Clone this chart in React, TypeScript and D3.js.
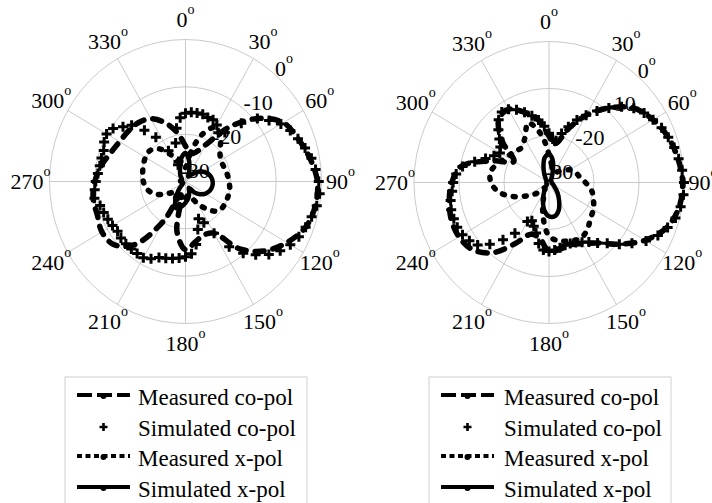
import React from "react";
import * as d3 from "d3";

// polar grid
const angleTicks = [0, 30, 60, 90, 120, 150, 180, 210, 240, 270, 300, 330];
const ringTicks = [0, -10, -20, -30];
const lineAngles = d3.range(0, 360, 10);
const markerAngles = d3.range(0, 360, 5);

const legendLabels = ["Measured co-pol", "Simulated co-pol", "Measured x-pol", "Simulated x-pol"];

// left panel (dB), measured every 10 deg, simulated co-pol every 5 deg
const measCoL = [-22.5, -24, -23.4, -21, -15, -9.3, -5.1, -3.6, -2.1, -0.9, -0.9, -1.8, -4.2, -7.2, -11.4, -17.4, -18, -17.1, -15.6, -19.2, -27, -20.4, -12.6, -9.3, -8.7, -9.3, -9.3, -10, -11.1, -12.4, -13.2, -13.5, -13.8, -14.7, -16.8, -19.5];
const simCoL = [-15.6, -15.3, -15.3, -15.3, -15.6, -15.6, -16.2, -17.4, -16.5, -12.6, -9.3, -7.5, -5.7, -4.5, -3.6, -2.7, -1.8, -1.2, -0.6, -0.3, -0.6, -1.2, -1.8, -2.4, -3.3, -4.5, -6.0, -8.1, -10.2, -13.2, -17.4, -20.4, -21.6, -19.5, -16.5, -14.7, -14.1, -13.8, -13.5, -13.2, -12.9, -12.0, -11.4, -11.4, -11.4, -11.4, -11.4, -11.7, -11.4, -11.1, -10.8, -10.5, -9.6, -9.9, -10.2, -10.6, -10.8, -10.8, -10.8, -10.2, -9.9, -10.5, -12.0, -13.2, -15.9, -18.6, -22.5, -26.1, -25.5, -21.6, -18.6, -16.5];
const measXL = [-27, -24, -19.5, -16.8, -18, -20.1, -21, -21, -20.7, -20.4, -20.1, -20.1, -20.1, -20.4, -22.2, -24.6, -26.4, -27, -26.4, -25.5, -24.6, -25.5, -27, -26.4, -24.6, -22.5, -21.3, -20.7, -20.4, -20.1, -19.8, -19.8, -21, -23.4, -25.5, -27];
const simXL = [-24, -25.5, -27.6, -28.8, -28.2, -27, -25.8, -24.9, -24.3, -24, -24, -24.3, -24.9, -25.8, -27, -28.5, -27.6, -26.4, -25.5, -24.6, -24, -25.5, -27.6, -29.1, -29.4, -29.4, -29.1, -28.8, -28.8, -29.1, -29.1, -28.8, -28.2, -27.6, -26.4, -24.9];

// right panel (dB)
const measCoR = [-20.1, -21.6, -18, -13.5, -9.3, -5.4, -3.3, -1.8, -0.9, -0.3, -0.6, -2.1, -5.4, -9.6, -13.2, -15, -15.9, -15.6, -15.3, -18, -18.3, -15, -10.5, -7.8, -6.9, -6.9, -7.5, -8.4, -10.2, -16.5, -21, -16.5, -12.6, -12, -14.1, -16.5];
const simCoR = [-19.5, -20.7, -21, -19.2, -17.4, -15.3, -13.5, -11.4, -9.3, -7.2, -5.4, -4.2, -3.3, -2.4, -1.8, -1.2, -0.75, -0.3, 0, 0, -0.3, -0.9, -1.95, -3.3, -5.1, -7.5, -9.6, -11.7, -13.2, -14.55, -15.3, -15.9, -16.2, -16.2, -15.9, -15.6, -15.3, -15.6, -16.8, -18.9, -20.1, -21, -20.4, -16.8, -14.1, -11.4, -9.3, -8.4, -7.8, -7.5, -7.5, -7.5, -7.8, -8.4, -8.7, -9.3, -10.5, -12.9, -15, -16.5, -17.4, -16.8, -15.6, -14.1, -12.6, -11.7, -12, -12.9, -14.1, -15.3, -16.5, -18];
const measXR = [-24, -26.4, -27.6, -27.6, -27, -26.1, -24.6, -23.7, -23.1, -21.9, -20.4, -19.5, -18.6, -18, -16.8, -16.2, -16.8, -17.4, -18.6, -22.5, -26.4, -28.2, -28.5, -26.4, -24.3, -21.3, -18.6, -17.1, -16.8, -18, -19.2, -19.8, -20.4, -19.2, -16.5, -19.5];
const simXR = [-24, -25.2, -27.6, -28.8, -29.4, -29.4, -29.4, -29.4, -29.4, -29.4, -29.4, -29.1, -28.8, -28.2, -27, -25.5, -23.7, -22.7, -22.8, -24, -26.1, -27.9, -28.8, -29.4, -29.4, -29.4, -29.4, -29.4, -29.4, -29.4, -29.4, -29.1, -28.8, -27.9, -26.4, -24.6];

const FONT = "Liberation Serif, DejaVu Serif, serif";
const GRID = "#bdbdbd";

const rScale = d3.scaleLinear().domain([-30, 0]).range([0, 1]).clamp(true);
const rad = (d: number) => (d * Math.PI) / 180;

interface PanelProps {
  cx: number;
  cy: number;
  rx: number;
  ry: number;
  measCo: number[];
  simCo: number[];
  measX: number[];
  simX: number[];
}

const Plus = ({ x, y, s, w }: { x: number; y: number; s: number; w: number }) => (
  <path d={`M${x - s},${y}H${x + s}M${x},${y - s}V${y + s}`} stroke="#000" strokeWidth={w} />
);

const Deg = ({ x, y, label, anchor }: { x: number; y: number; label: string; anchor: string }) => (
  <text x={x} y={y} textAnchor={anchor} style={{ fontFamily: FONT, fontSize: 22 }} fill="#000">
    {label}
    <tspan dy={-13} style={{ fontSize: 14 }}>o</tspan>
  </text>
);

const PolarPanel: React.FC<PanelProps> = ({ cx, cy, rx, ry, measCo, simCo, measX, simX }) => {
  const pt = (deg: number, db: number): [number, number] => [
    cx + rx * rScale(db) * Math.sin(rad(deg)),
    cy - ry * rScale(db) * Math.cos(rad(deg)),
  ];
  const line = d3.line().curve(d3.curveCatmullRomClosed.alpha(0.5));
  const path = (vals: number[], angles: number[]) =>
    line(vals.map((v, i) => pt(angles[i], v))) || "";

  const ringDir = rad(44);

  return (
    <g>
      {[1 / 3, 2 / 3, 1].map((k) => (
        <ellipse key={k} cx={cx} cy={cy} rx={rx * k} ry={ry * k} fill="none" stroke={GRID} strokeWidth={0.8} />
      ))}
      {angleTicks.map((a) => (
        <line key={a} x1={cx} y1={cy} x2={cx + rx * Math.sin(rad(a))} y2={cy - ry * Math.cos(rad(a))}
          stroke={GRID} strokeWidth={0.8} />
      ))}
      {angleTicks.map((a) => (
        <Deg key={a} label={String(a)} anchor="middle"
          x={cx + 1.14 * rx * Math.sin(rad(a))}
          y={cy - 1.14 * ry * Math.cos(rad(a)) + 7.5} />
      ))}
      {ringTicks.map((t) => {
        const k = rScale(t);
        const x = cx + rx * k * Math.sin(ringDir) - 5;
        const y = cy - ry * k * Math.cos(ringDir) - 11 + 7.5;
        return t === 0 ? null : (
          <text key={t} x={x} y={y} style={{ fontFamily: FONT, fontSize: 22 }} fill="#000">{String(t)}</text>
        );
      })}
      <path d={path(simX, lineAngles)} fill="none" stroke="#000" strokeWidth={4.5} />
      <path d={path(measX, lineAngles)} fill="none" stroke="#000" strokeWidth={5.5}
        strokeDasharray="2 9" strokeLinecap="round" />
      <path d={path(measCo, lineAngles)} fill="none" stroke="#000" strokeWidth={5.5}
        strokeDasharray="9 9" strokeLinecap="round" />
      {simCo.map((v, i) => {
        const [x, y] = pt(markerAngles[i], v);
        return <Plus key={i} x={x} y={y} s={5} w={3} />;
      })}
      <Deg label="0" anchor="start"
        x={cx + rx * Math.sin(ringDir) - 5}
        y={cy - ry * Math.cos(ringDir) - 11 + 7.5} />
    </g>
  );
};

const Legend = ({ x, w, lineX, textX }: { x: number; w: number; lineX: number; textX: number }) => {
  const rows = [405, 436, 466, 497];
  const x2 = lineX + 53;
  const mid = (lineX + x2) / 2;
  return (
    <g style={{ fontFamily: FONT, fontSize: 23 }}>
      <rect x={x} y={377} width={w} height={140} fill="#fff" stroke="#d0d0d0" strokeWidth={1} />
      <line x1={lineX} x2={x2} y1={rows[0] - 10} y2={rows[0] - 10} stroke="#000" strokeWidth={4} strokeDasharray="15 5" />
      <circle cx={mid} cy={rows[0] - 9} r={3} fill="#000" />
      <Plus x={mid} y={rows[1] - 9} s={4} w={2.6} />
      <line x1={lineX} x2={x2} y1={rows[2] - 10} y2={rows[2] - 10} stroke="#000" strokeWidth={4} strokeDasharray="5 3.5" />
      <circle cx={mid} cy={rows[2] - 9} r={3} fill="#000" />
      <line x1={lineX} x2={x2} y1={rows[3] - 10} y2={rows[3] - 10} stroke="#000" strokeWidth={4} />
      <circle cx={mid} cy={rows[3] - 9} r={3} fill="#000" />
      {legendLabels.map((l, i) => (
        <text key={l} x={textX} y={rows[i]} fill="#000">{l}</text>
      ))}
    </g>
  );
};

export default function App() {
  return (
    <svg width={712} height={503} style={{ position: "absolute", left: 0, top: 0, background: "#fff" }}>
      <rect width={712} height={503} fill="#fff" />
      <PolarPanel cx={185.5} cy={181.5} rx={136} ry={142} measCo={measCoL} simCo={simCoL} measX={measXL} simX={simXL} />
      <PolarPanel cx={549} cy={182.5} rx={135} ry={141} measCo={measCoR} simCo={simCoR} measX={measXR} simX={simXR} />
      <Legend x={65} w={242} lineX={77} textX={138} />
      <Legend x={429} w={242} lineX={441} textX={504} />
    </svg>
  );
}
